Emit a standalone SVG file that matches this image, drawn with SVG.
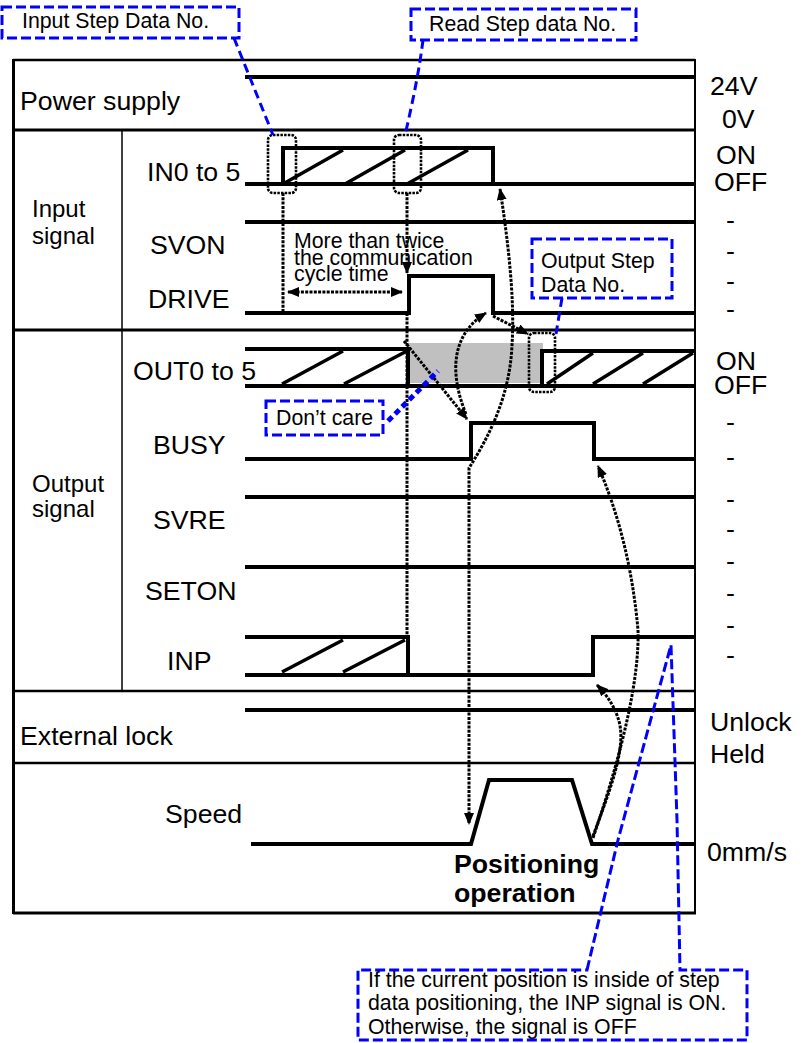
<svg xmlns="http://www.w3.org/2000/svg" width="808" height="1043" viewBox="0 0 808 1043">
<style>
.t{font-family:"Liberation Sans",Arial,sans-serif;font-size:26.7px;fill:#000}
.g{font-family:"Liberation Sans",Arial,sans-serif;font-size:24px;fill:#000}
.s{font-family:"Liberation Sans",Arial,sans-serif;font-size:21.3px;fill:#000}
.b{font-family:"Liberation Sans",Arial,sans-serif;font-size:26.7px;font-weight:bold;fill:#000}
.sig{stroke:#000;stroke-width:4;fill:none;stroke-linejoin:miter;stroke-linecap:butt}
.hat{stroke:#000;stroke-width:3.5;fill:none}
.fr{stroke:#000;fill:none}
.dot{stroke:#000;stroke-width:3;stroke-dasharray:3 1.3;fill:none}
.rr{stroke:#000;stroke-width:2.6;stroke-dasharray:2.5 1.2;fill:none}
.co{stroke:#0000ff;stroke-width:3;stroke-dasharray:10 4;fill:none}
.cl{stroke:#0000ff;stroke-width:3;stroke-dasharray:9 5;fill:none}
</style>
<defs>
<marker id="ah" viewBox="0 0 12 10" refX="11" refY="5" markerWidth="12" markerHeight="10" markerUnits="userSpaceOnUse" orient="auto-start-reverse">
<path d="M0,0 L12,5 L0,10 Z" fill="#000"/>
</marker>
</defs>
<rect width="808" height="1043" fill="#fff"/>

<g id="frame">
<line class="fr" x1="13" y1="60" x2="695" y2="60" stroke-width="2.5"/>
<line class="fr" x1="13.5" y1="59" x2="13.5" y2="914" stroke-width="3"/>
<line class="fr" x1="695" y1="59" x2="695" y2="914" stroke-width="2"/>
<line class="fr" x1="13" y1="913" x2="696" y2="913" stroke-width="3"/>
<line class="fr" x1="13" y1="130" x2="695" y2="130" stroke-width="3"/>
<line class="fr" x1="13" y1="330" x2="695" y2="330" stroke-width="3"/>
<line class="fr" x1="13" y1="691" x2="695" y2="691" stroke-width="2.5"/>
<line class="fr" x1="13" y1="763" x2="695" y2="763" stroke-width="2.5"/>
<line class="fr" x1="122" y1="130" x2="122" y2="691" stroke-width="1.5"/>
</g>

<g id="labels">
<text class="t" x="20" y="110">Power supply</text>
<text class="g" x="32" y="217">Input</text>
<text class="g" x="32" y="244">signal</text>
<text class="t" x="147" y="181">IN0 to 5</text>
<text class="t" x="150" y="254">SVON</text>
<text class="t" x="148" y="308">DRIVE</text>
<text class="g" x="32" y="492">Output</text>
<text class="g" x="32" y="517">signal</text>
<text class="t" x="133" y="380">OUT0 to 5</text>
<text class="t" x="153" y="454">BUSY</text>
<text class="t" x="153" y="529">SVRE</text>
<text class="t" x="145" y="600">SETON</text>
<text class="t" x="167" y="670">INP</text>
<text class="t" x="20" y="745">External lock</text>
<text class="t" x="165" y="823">Speed</text>
</g>

<g id="levels">
<text class="t" x="710" y="95">24V</text>
<text class="t" x="722" y="128">0V</text>
<text class="t" x="716" y="164">ON</text>
<text class="t" x="714" y="191">OFF</text>
<text class="t" x="716" y="370">ON</text>
<text class="t" x="714" y="394">OFF</text>
<text class="t" x="710" y="731">Unlock</text>
<text class="t" x="710" y="763">Held</text>
<text class="t" x="707" y="861">0mm/s</text>
<text class="t" x="726" y="229">-</text>
<text class="t" x="726" y="260">-</text>
<text class="t" x="726" y="290">-</text>
<text class="t" x="726" y="318">-</text>
<text class="t" x="726" y="431">-</text>
<text class="t" x="726" y="466">-</text>
<text class="t" x="726" y="508">-</text>
<text class="t" x="726" y="538">-</text>
<text class="t" x="726" y="570">-</text>
<text class="t" x="726" y="602">-</text>
<text class="t" x="726" y="634">-</text>
<text class="t" x="726" y="664">-</text>
</g>

<g id="sig-power">
<path class="sig" d="M245,77 H695"/>
</g>

<g id="sig-in">
<path class="sig" d="M245,184 H695"/>
<path class="sig" d="M283,184 V148 H493 V184"/>
<path class="hat" d="M283,184 L343,150 M345,184 L405,150 M407,184 L468,150"/>
</g>

<g id="sig-svon">
<path class="sig" d="M245,222 H695"/>
</g>

<g id="sig-drive">
<path class="sig" d="M245,313 H409 V276 H493 V313 H695"/>
</g>

<g id="sig-out">
<rect x="409" y="343" width="134" height="40" fill="#c0c0c0"/>
<path class="sig" d="M245,349 H408 V386 M245,386 H695 M542,386 V351 H695"/>
<path class="hat" d="M282,384 L343,351 M344,384 L407,351 M547,384 L593,353 M593,384 L643,353 M643,384 L693,353"/>
</g>

<g id="sig-busy">
<path class="sig" d="M245,459 H471 V423 H594 V459 H695"/>
</g>

<g id="sig-svre">
<path class="sig" d="M245,497 H695"/>
</g>

<g id="sig-seton">
<path class="sig" d="M245,567 H695"/>
</g>

<g id="sig-inp">
<path class="sig" d="M245,637 H408 V675 H593 V637 H695 M245,675 H408"/>
<path class="hat" d="M282,672 L343,640 M343,672 L405,640"/>
</g>

<g id="sig-lock">
<path class="sig" d="M245,710 H695"/>
</g>

<g id="sig-speed">
<path class="sig" d="M251,844 H471 L489,780 H572 L592,844 H695"/>
</g>

<g id="highlights">
<rect class="rr" x="268" y="135" width="28" height="58" rx="5"/>
<rect class="rr" x="394" y="135" width="27" height="58" rx="5"/>
<rect class="rr" x="529" y="333" width="26" height="59" rx="5"/>
</g>

<g id="connectors">
<path class="dot" d="M283,193 V313"/>
<path class="dot" d="M407,193 V273" marker-end="url(#ah)"/>
<path class="dot" d="M407,313 V637"/>
<path class="dot" d="M288,292 H402" marker-start="url(#ah)" marker-end="url(#ah)"/>
<path class="dot" d="M500,189 C508,240 515,300 512,345 C510,395 490,435 469,468 L469,824" marker-start="url(#ah)" marker-end="url(#ah)"/>
<path class="dot" d="M466,414 C450,375 450,335 486,313" marker-end="url(#ah)"/>
<path class="dot" d="M404,341 L467,419" marker-end="url(#ah)"/>
<path class="dot" d="M493,316 L528,334" marker-end="url(#ah)"/>
<path class="dot" d="M593,838 Q640,700 638,630 Q630,540 598,466" marker-end="url(#ah)"/>
<path class="dot" d="M593,836 C610,790 628,745 618,718 Q612,700 597,685" marker-end="url(#ah)"/>
</g>

<g id="note-timing">
<text class="s" x="294" y="248">More than twice</text>
<text class="s" x="294" y="265">the communication</text>
<text class="s" x="294" y="281">cycle time</text>
</g>

<g id="positioning">
<text class="b" x="454" y="873">Positioning</text>
<text class="b" x="454" y="902">operation</text>
</g>

<g id="callout-input">
<rect class="co" x="2" y="7" width="237" height="31"/>
<path class="cl" d="M234,38 L273,135"/>
<text class="s" x="22" y="28">Input Step Data No.</text>
</g>

<g id="callout-read">
<rect class="co" x="411" y="9" width="225" height="31"/>
<path class="cl" d="M423,40 Q418,80 405,135"/>
<text class="s" x="429" y="31">Read Step data No.</text>
</g>

<g id="callout-output">
<rect class="co" x="532" y="239" width="140" height="59" fill="#fff"/>
<path class="cl" d="M562,298 L556,334"/>
<text class="s" x="541" y="268">Output Step</text>
<text class="s" x="541" y="292">Data No.</text>
</g>

<g id="callout-dontcare">
<rect class="co" x="266" y="401" width="117" height="34" fill="#fff"/>
<path d="M388,421 L438,371" stroke="#0000ff" stroke-width="5" stroke-dasharray="6 4" fill="none"/>
<text class="s" x="276" y="425">Don’t care</text>
</g>

<g id="callout-inp">
<path class="co" d="M587,970 L618,840 L671,645 L677,820 L680,970 H747 V1040 H358 V970 Z"/>
<text class="s" x="368" y="987">If the current position is inside of step</text>
<text class="s" x="368" y="1010">data positioning, the INP signal is ON.</text>
<text class="s" x="368" y="1034">Otherwise, the signal is OFF</text>
</g>
</svg>
